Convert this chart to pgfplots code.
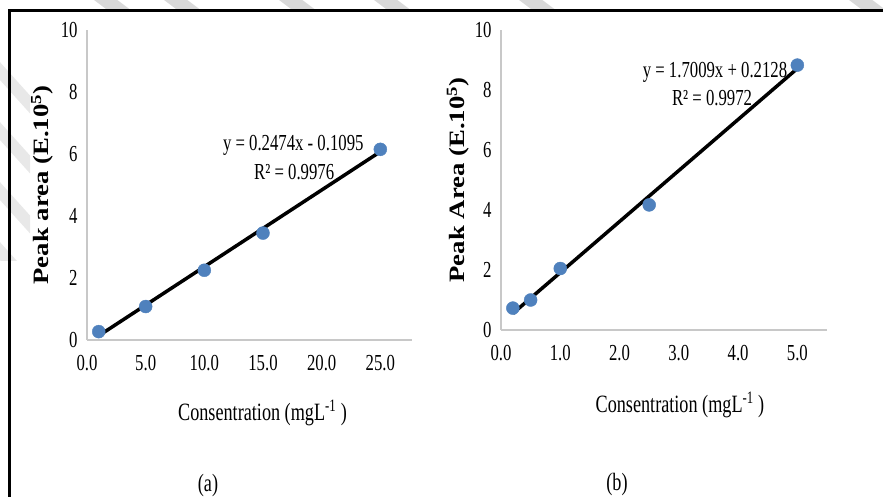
\documentclass[border=0pt]{standalone}
\usepackage{fontspec}
\setmainfont{Liberation Serif}[FakeStretch=0.73]
\newfontfamily\labfont{Liberation Serif}[FakeStretch=1.22]
\usepackage{pgfplots}
\pgfplotsset{compat=1.18}
\definecolor{dotblue}{HTML}{4F81BD}
\definecolor{axgray}{HTML}{C8C8C8}
\pgfplotsset{
  excel/.style={
    scale only axis,
    ymin=0, ymax=10,
    ytick={0,2,...,10},
    axis x line*=bottom, axis y line*=left,
    axis line style={draw=axgray, line width=1.3bp, -},
    major tick length=0pt,
    tick style={draw=none},
    /pgf/number format/assume math mode=true,
    tick label style={font=\fontsize{23}{26}\selectfont},
    yticklabel style={xshift=-6bp},
    xticklabel style={yshift=-12bp},
    label style={font=\fontsize{25}{28}\selectfont},
    every axis y label/.style={rotate=90, anchor=center,
      font=\labfont\bfseries\fontsize{22}{26}\selectfont},
    clip=false,
  }
}
\begin{document}
\begin{tikzpicture}
\path[use as bounding box] (0,0) rectangle (883bp,-497bp);
% watermark stripes
\begin{scope}
\clip (0,0) rectangle (883bp,-9bp);
\foreach \x in {95,165,280,375,520,850}
  \draw[gray!30, line width=14bp] (\x bp,8bp) -- (\x bp+40bp,-22bp);
\end{scope}
\begin{scope}
\clip (0,-9bp) rectangle (30bp,-260bp);
\foreach \y in {60,120,180,240}
  \draw[gray!18, line width=12bp] (-10bp,-\y bp) -- (35bp,-\y bp-50bp);
\end{scope}
\draw[line width=3bp] (9bp,-497bp) -- (9bp,-10bp) -- (883bp,-10bp);

% panel (a)
\begin{axis}[excel,
  at={(87bp,-340bp)}, anchor=south west,
  width=325bp, height=310bp,
  xmin=0, xmax=27.7,
  xtick={0,5,10,15,20,25},
  xticklabels={0.0,5.0,10.0,15.0,20.0,25.0},
  xlabel={Consentration (mgL\textsuperscript{-1} )},
  xlabel style={at={(axis description cs:0.54,-0.235)}, anchor=center},
  ylabel={Peak area (E.10\textsuperscript{5})},
  ylabel style={at={(axis description cs:-0.138,0.5)}},
]
\addplot[only marks, mark=*, mark size=6.5bp, mark options={draw=dotblue, fill=dotblue}]
  coordinates {(1,0.27) (5,1.08) (10,2.25) (15,3.45) (25,6.15)};
\addplot[black, line width=3.5bp] coordinates {(1,0.138) (25,6.075)};
\node[font=\fontsize{23}{26}\selectfont] at (axis cs:17.58,6.29) {y = 0.2474x - 0.1095};
\node[font=\fontsize{23}{26}\selectfont] at (axis cs:17.66,5.42) {R² = 0.9976};
\end{axis}

% panel (b)
\begin{axis}[excel,
  at={(501bp,-330bp)}, anchor=south west,
  width=326bp, height=300bp,
  xmin=0, xmax=5.5,
  xtick={0,1,2,3,4,5},
  xticklabels={0.0,1.0,2.0,3.0,4.0,5.0},
  xlabel={Consentration (mgL\textsuperscript{-1} )},
  xlabel style={at={(axis description cs:0.549,-0.25)}, anchor=center},
  ylabel={Peak Area (E.10\textsuperscript{5})},
  ylabel style={at={(axis description cs:-0.132,0.5)}},
]
\addplot[only marks, mark=*, mark size=6.5bp, mark options={draw=dotblue, fill=dotblue}]
  coordinates {(0.2,0.73) (0.5,1.0) (1.0,2.05) (2.5,4.17) (5.0,8.83)};
\addplot[black, line width=3.5bp] coordinates {(0.2,0.553) (5.0,8.717)};
\node[font=\fontsize{23}{26}\selectfont] at (axis cs:3.61,8.6) {y = 1.7009x + 0.2128};
\node[font=\fontsize{23}{26}\selectfont] at (axis cs:3.56,7.73) {R² = 0.9972};
\end{axis}

\node[font=\fontsize{25}{28}\selectfont] at (208bp,-486bp) {(a)};
\node[font=\fontsize{25}{28}\selectfont] at (617bp,-485bp) {(b)};
\end{tikzpicture}
\end{document}
